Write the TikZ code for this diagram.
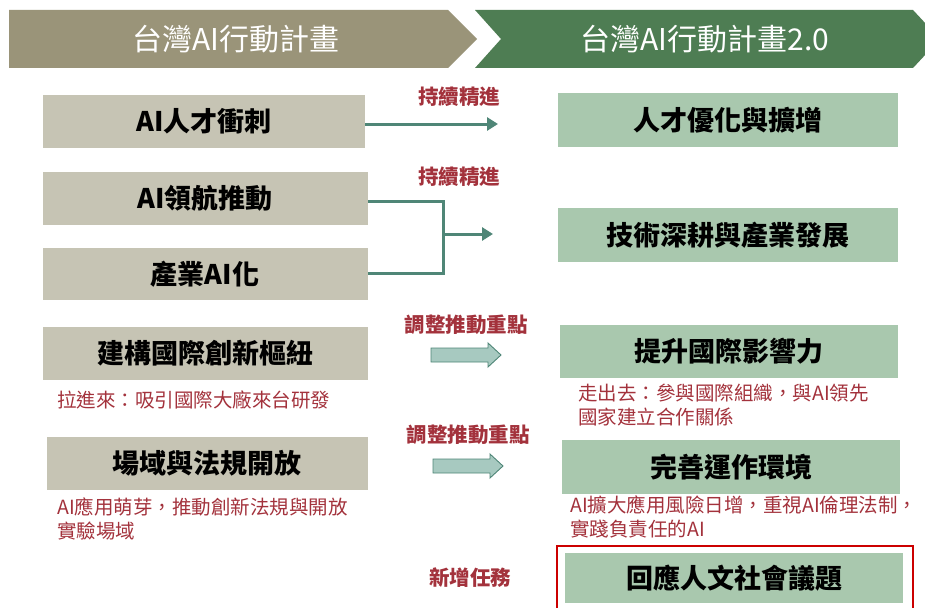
\documentclass[tikz,border=0pt]{standalone}
\usepackage{fontspec}
\newfontfamily\cjk{Noto Sans CJK TC}
\usetikzlibrary{arrows.meta}
\definecolor{oldbar}{HTML}{9A9479}
\definecolor{newbar}{HTML}{4E7D53}
\definecolor{oldbox}{HTML}{C6C4B4}
\definecolor{newbox}{HTML}{A9C8AE}
\definecolor{lab}{HTML}{A3323C}
\definecolor{teal}{HTML}{4F8677}
\definecolor{blockfill}{HTML}{A7C9C0}
\tikzset{
  boxtext/.style={font=\cjk\bfseries\fontsize{27}{30}\selectfont, text=black},
  headtext/.style={font=\cjk\fontsize{30}{33}\selectfont, text=white},
  oldstyle/.style={fill=oldbox, draw=none},
  newstyle/.style={fill=newbox, draw=none},
  redlab/.style={font=\cjk\bfseries\fontsize{20.5}{23}\selectfont, text=lab},
  note/.style={font=\cjk\fontsize{19.5}{23.5}\selectfont, text=lab, align=left, anchor=north west, inner sep=0pt},
  conn/.style={draw=teal, line width=3pt},
  blockarrow/.style={draw=teal, fill=blockfill, line width=0.9pt, line join=miter}
}
\begin{document}
\begin{tikzpicture}[x=1pt,y=-1pt]
\useasboundingbox (0,0) rectangle (925,607);
% header banners
\fill[oldbar] (9,10) -- (448,10) -- (477,39) -- (448,68) -- (9,68) -- cycle;
\fill[newbar] (475,10) -- (913,10) -- (940,39) -- (913,68) -- (475,68) -- (501,39) -- cycle;
\node[headtext] (h1) at (236,39) {台灣AI行動計畫};
\node[headtext] (h2) at (705,39) {台灣AI行動計畫2.0};
% left boxes
\path[oldstyle] (43,95) rectangle (365,148);
\node[boxtext] (l1) at (204,121.5) {AI人才衝刺};
\path[oldstyle] (43,172) rectangle (368,225);
\node[boxtext] (l2) at (205,198.5) {AI領航推動};
\path[oldstyle] (43,248) rectangle (368,300);
\node[boxtext] (l3) at (205,274) {產業AI化};
\path[oldstyle] (43,327) rectangle (368,380);
\node[boxtext] (l4) at (205,353.5) {建構國際創新樞紐};
\path[oldstyle] (47,437) rectangle (368,490);
\node[boxtext] (l5) at (207,463.5) {場域與法規開放};
% right boxes
\path[newstyle] (558,93) rectangle (898,147);
\node[boxtext] (r1) at (728,120) {人才優化與擴增};
\path[newstyle] (558,208) rectangle (898,262);
\node[boxtext] (r2) at (728,235) {技術深耕與產業發展};
\path[newstyle] (560,325) rectangle (898,378);
\node[boxtext] (r3) at (729,351.5) {提升國際影響力};
\path[newstyle] (562,440) rectangle (900,494);
\node[boxtext] (r4) at (731,467) {完善運作環境};
\draw[red!80!black, line width=1.5pt] (557,546) rectangle (913,615);
\path[newstyle] (565,553) rectangle (903,603);
\node[boxtext] (r5) at (734,578) {回應人文社會議題};
% coordinates for connectors
\coordinate (a1s) at (365,124);
\coordinate (a1e) at (498,124);
\coordinate (b1) at (368,201);
\coordinate (b2) at (443,201);
\coordinate (b3) at (443,273);
\coordinate (b4) at (368,273);
\coordinate (bm) at (443,234);
\coordinate (be) at (493,234);
\draw[conn, -{Triangle[length=11pt,width=13pt]}] (a1s) -- (a1e);
\draw[conn, line join=miter] (b1) -- (b2) -- (b3) -- (b4);
\draw[conn, -{Triangle[length=11pt,width=13pt]}] (bm) -- (be);
% labels
\node[redlab] (t1) at (459,97) {持續精進};
\node[redlab] (t2) at (459,177) {持續精進};
\node[redlab] (t3) at (466,325) {調整推動重點};
\node[redlab] (t4) at (468,435) {調整推動重點};
\node[redlab] (t5) at (470,578) {新增任務};
% block arrows
\draw[blockarrow] (431,348) -- (488,348) -- (488,343) -- (501,355) -- (488,367) -- (488,362) -- (431,362) -- cycle;
\draw[blockarrow] (433,459) -- (490,459) -- (490,454) -- (503,466) -- (490,478) -- (490,473) -- (433,473) -- cycle;
% notes
\node[note] (n1) at (57,391) {拉進來：吸引國際大廠來台研發};
\node[note] (n2) at (578,384) {走出去：參與國際組織，與AI領先\\國家建立合作關係};
\node[note] (n3) at (57,498) {AI應用萌芽，推動創新法規與開放\\實驗場域};
\node[note] (n4) at (570,496) {AI擴大應用風險日增，重視AI倫理法制，\\實踐負責任的AI};
\end{tikzpicture}
\end{document}
